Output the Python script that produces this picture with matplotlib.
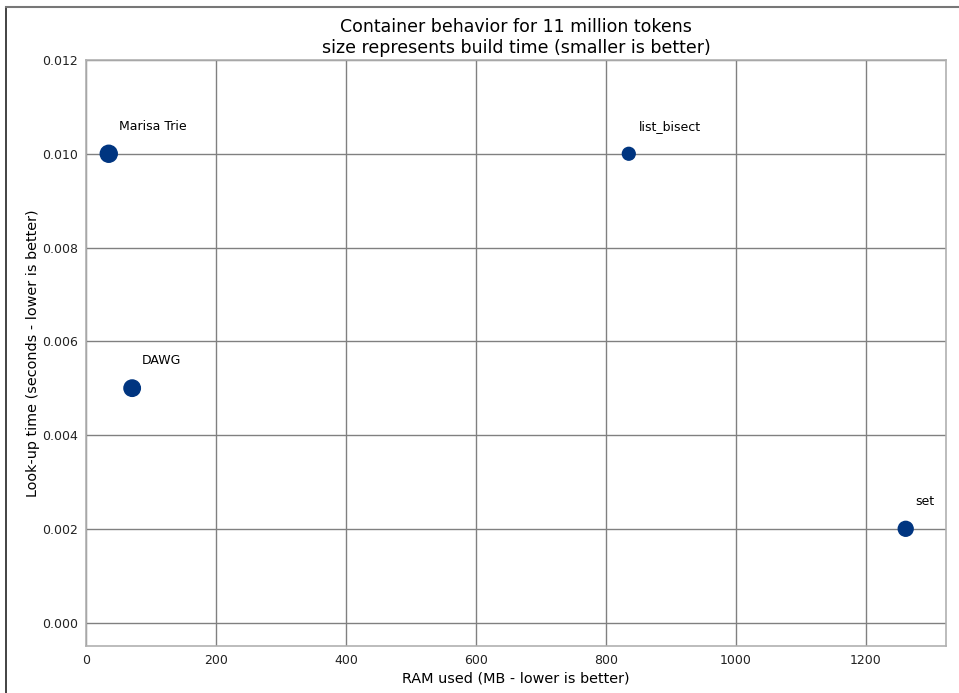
import matplotlib
matplotlib.use("Agg")
import matplotlib.pyplot as plt
from matplotlib.lines import Line2D

# Container results
names = ["Marisa Trie", "DAWG", "list_bisect", "set"]
ram_mb = [35, 71, 835, 1261]
lookup_s = [0.010, 0.005, 0.010, 0.002]
build_size = [150, 140, 85, 115]  # marker area, proportional to build time

fig = plt.figure(figsize=(9.59, 6.93), dpi=100)
ax = fig.add_axes([86 / 959, 1 - 646 / 693, 860 / 959, 586 / 693])

ax.scatter(ram_mb, lookup_s, s=build_size, color="#003580", zorder=3)
for name, x, y in zip(names, ram_mb, lookup_s):
    ax.text(x + 15, y + 0.00045, name, fontsize=9, ha="left", va="bottom")

ax.set_xlim(0, 1323)
ax.set_ylim(-0.0005, 0.012)
ax.set_xticks([0, 200, 400, 600, 800, 1000, 1200])
ax.set_yticks([0.000, 0.002, 0.004, 0.006, 0.008, 0.010, 0.012])
ax.yaxis.set_major_formatter(plt.FormatStrFormatter("%.3f"))
ax.tick_params(length=0, labelsize=9, pad=6, labelcolor="#222222")
ax.grid(True, color="#808080", linewidth=1.0)
ax.set_axisbelow(True)
for sp in ax.spines.values():
    sp.set_color("#b0b0b0")
    sp.set_linewidth(1.2)

ax.set_xlabel("RAM used (MB - lower is better)", fontsize=10.4, labelpad=3)
ax.set_ylabel("Look-up time (seconds - lower is better)", fontsize=10.4, labelpad=1)
ax.set_title("Container behavior for 11 million tokens\nsize represents build time (smaller is better)",
             fontsize=12.5, pad=5)

# frame edges visible in the screenshot
fig.add_artist(Line2D([6 / 959, 6 / 959], [0, 1 - 7 / 693], color="#222222", linewidth=1.2))
fig.add_artist(Line2D([6 / 959, 1], [1 - 7 / 693, 1 - 7 / 693], color="#777777", linewidth=1.5))

fig.savefig("out.png", dpi=100)
